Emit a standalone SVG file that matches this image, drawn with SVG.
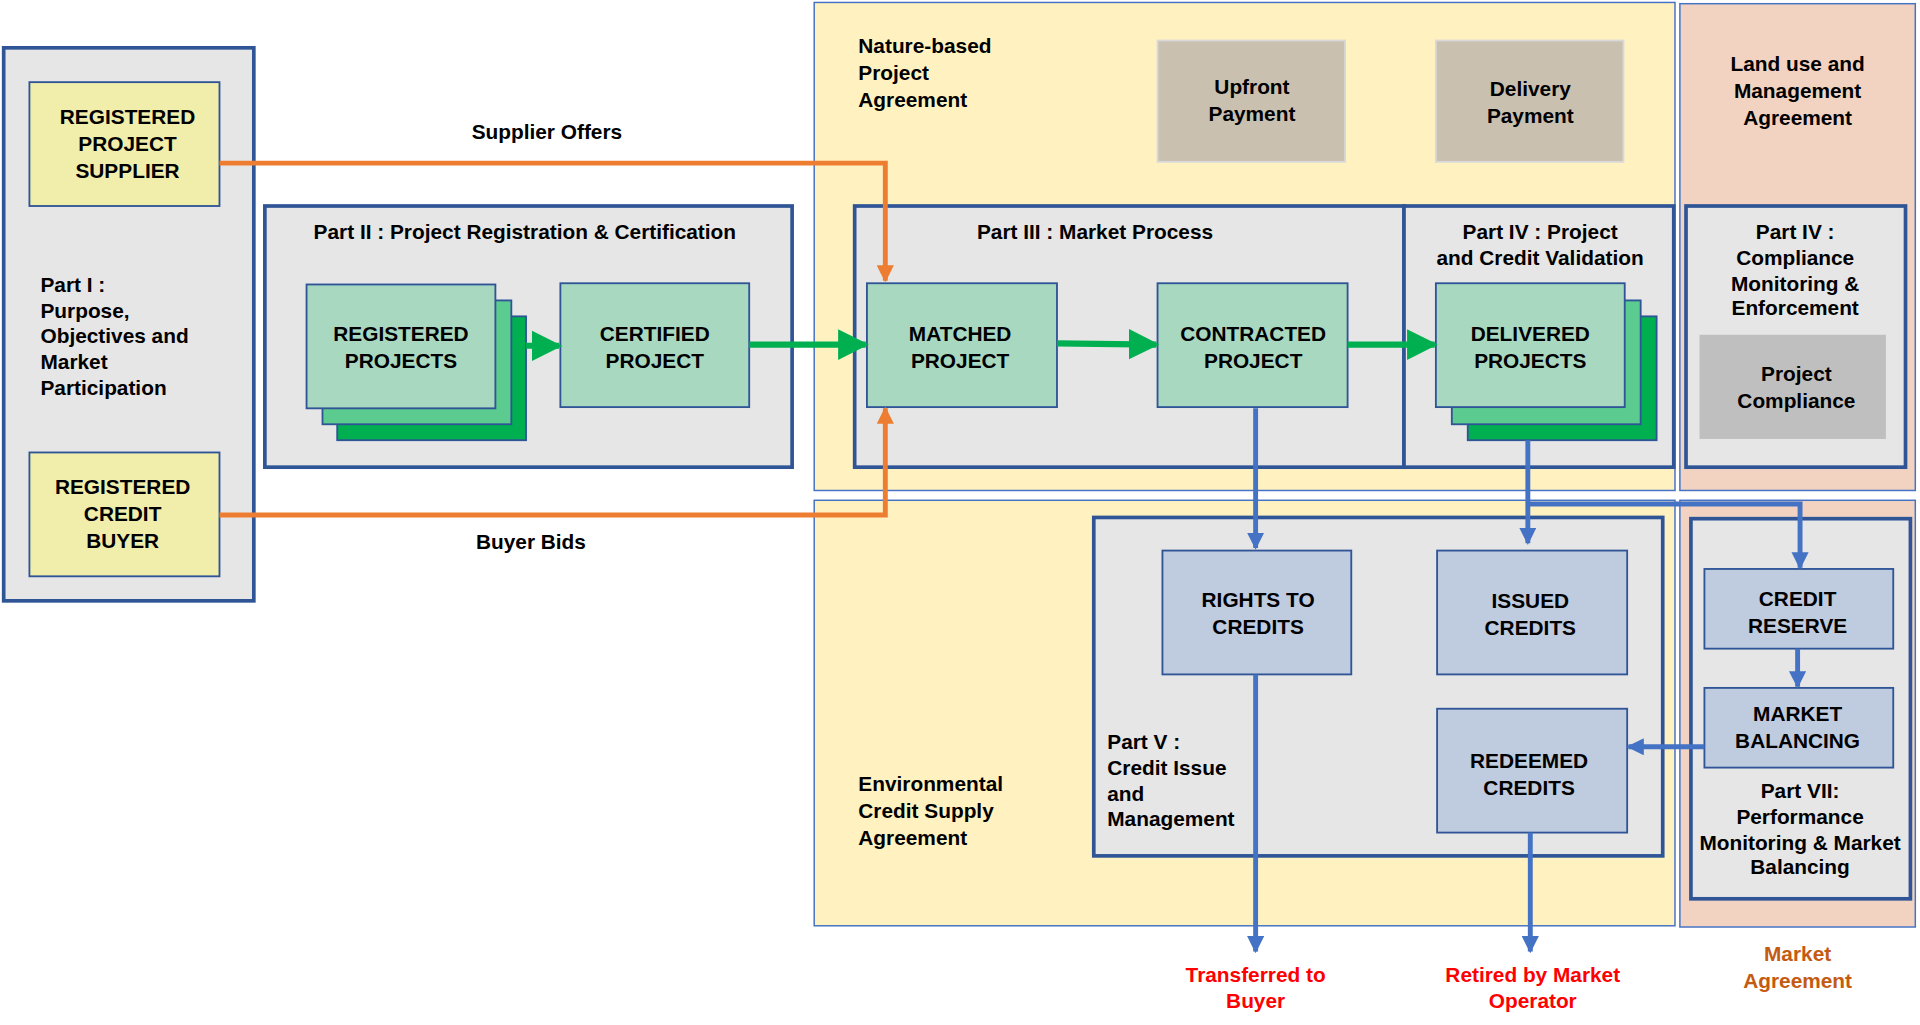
<svg xmlns="http://www.w3.org/2000/svg" width="1920" height="1025" viewBox="0 0 1920 1025">
<style>
text{font-family:"Liberation Sans",Arial,sans-serif;font-weight:bold;font-size:17px;fill:#000}
.c{text-anchor:middle}
.grp{fill:#e6e6e6;stroke:#2f5597;stroke-width:3}
.yel{fill:#f0eeaa;stroke:#2f5597;stroke-width:1.5}
.grn{fill:#a9d8c0;stroke:#2f5597;stroke-width:1.5}
.blu{fill:#bfcbdf;stroke:#2f5597;stroke-width:1.5}
.pay{fill:#c9c0b0;stroke:#d9d9d9;stroke-width:1.5}
.band{fill:#fff2c0;stroke:#4472c4;stroke-width:1.2}
.pink{fill:#f2d3c2;stroke:#4472c4;stroke-width:1.2}
.or{stroke:#ed7d31;stroke-width:4;fill:none}
.bl{stroke:#4472c4;stroke-width:4;fill:none}
.gr{stroke:#00b050;stroke-width:5;fill:none}
.red{fill:#ff0000}
.brn{fill:#c55a11}
</style>
<defs>
<marker id="ao" viewBox="0 0 10 10" refX="9" refY="5" markerWidth="3.5" markerHeight="3.5" orient="auto"><path d="M0,0L10,5L0,10z" fill="#ed7d31"/></marker>
<marker id="ab" viewBox="0 0 10 10" refX="9" refY="5" markerWidth="3.5" markerHeight="3.5" orient="auto"><path d="M0,0L10,5L0,10z" fill="#4472c4"/></marker>
<marker id="ag" viewBox="0 0 10 10" refX="9" refY="5" markerWidth="5" markerHeight="5" orient="auto"><path d="M0,0L10,5L0,10z" fill="#00b050"/></marker>
</defs>
<rect width="1920" height="1025" fill="#fff"/>
<g transform="scale(1.2262)">
<g id="bands">
<rect class="band" x="664" y="2" width="702" height="398"/>
<rect class="band" x="664" y="408" width="702" height="347"/>
<rect class="pink" x="1370" y="3" width="192" height="397"/>
<rect class="pink" x="1370" y="408" width="192" height="348"/>
<text x="700" y="43">Nature-based</text><text x="700" y="65">Project</text><text x="700" y="87">Agreement</text>
<text x="700" y="645">Environmental</text><text x="700" y="667">Credit Supply</text><text x="700" y="689">Agreement</text>
<text class="c" x="1466" y="58">Land use and</text><text class="c" x="1466" y="80">Management</text><text class="c" x="1466" y="102">Agreement</text>
<text class="c brn" x="1466" y="784">Market</text><text class="c brn" x="1466" y="806">Agreement</text>
</g>
<g id="part1">
<rect class="grp" x="3" y="39" width="204" height="451"/>
<text x="33" y="238">Part I :</text><text x="33" y="259">Purpose,</text><text x="33" y="280">Objectives and</text><text x="33" y="301">Market</text><text x="33" y="322">Participation</text>
</g>
<g id="supplier"><rect class="yel" x="24" y="67" width="155" height="101"/>
<text class="c" x="104" y="101">REGISTERED</text><text class="c" x="104" y="123">PROJECT</text><text class="c" x="104" y="145">SUPPLIER</text></g>
<g id="buyer"><rect class="yel" x="24" y="369" width="155" height="101"/>
<text class="c" x="100" y="403">REGISTERED</text><text class="c" x="100" y="425">CREDIT</text><text class="c" x="100" y="447">BUYER</text></g>
<g id="part2"><rect class="grp" x="216" y="168" width="430" height="213"/>
<text class="c" x="428" y="195">Part II : Project Registration &amp; Certification</text></g>
<g id="registered">
<rect x="275" y="258" width="154" height="101" fill="#00b050" stroke="#2f5597" stroke-width="1.5"/>
<rect x="263" y="245" width="154" height="101" fill="#5ccb8f" stroke="#2f5597" stroke-width="1.5"/>
<rect class="grn" x="250" y="232" width="154" height="101" stroke-width="2.5"/>
<text class="c" x="327" y="278">REGISTERED</text><text class="c" x="327" y="300">PROJECTS</text></g>
<g id="certified"><rect class="grn" x="457" y="231" width="154" height="101"/>
<text class="c" x="534" y="278">CERTIFIED</text><text class="c" x="534" y="300">PROJECT</text></g>
<g id="part3"><rect class="grp" x="697" y="168" width="448" height="213"/>
<text class="c" x="893" y="195">Part III : Market Process</text></g>
<g id="part4"><rect class="grp" x="1145" y="168" width="220" height="213"/>
<text class="c" x="1256" y="195">Part IV : Project</text><text class="c" x="1256" y="216">and Credit Validation</text></g>
<g id="upfront"><rect class="pay" x="944" y="33" width="153" height="99"/>
<text class="c" x="1021" y="77">Upfront</text><text class="c" x="1021" y="99">Payment</text></g>
<g id="delivery"><rect class="pay" x="1171" y="33" width="153" height="99"/>
<text class="c" x="1248" y="78">Delivery</text><text class="c" x="1248" y="100">Payment</text></g>
<g id="matched"><rect class="grn" x="707" y="231" width="155" height="101"/>
<text class="c" x="783" y="278">MATCHED</text><text class="c" x="783" y="300">PROJECT</text></g>
<g id="contracted"><rect class="grn" x="944" y="231" width="155" height="101"/>
<text class="c" x="1022" y="278">CONTRACTED</text><text class="c" x="1022" y="300">PROJECT</text></g>
<g id="delivered">
<rect x="1197" y="258" width="154" height="101" fill="#00b050" stroke="#2f5597" stroke-width="1.5"/>
<rect x="1184" y="245" width="154" height="101" fill="#5ccb8f" stroke="#2f5597" stroke-width="1.5"/>
<rect class="grn" x="1171" y="231" width="154" height="101" stroke-width="2.5"/>
<text class="c" x="1248" y="278">DELIVERED</text><text class="c" x="1248" y="300">PROJECTS</text></g>
<g id="compliance"><rect class="grp" x="1375" y="168" width="179" height="213"/>
<text class="c" x="1464" y="195">Part IV :</text><text class="c" x="1464" y="216">Compliance</text><text class="c" x="1464" y="237">Monitoring &amp;</text><text class="c" x="1464" y="257">Enforcement</text>
<rect x="1386" y="273" width="152" height="85" fill="#bfbfbf"/>
<text class="c" x="1465" y="311">Project</text><text class="c" x="1465" y="333">Compliance</text></g>
<g id="part5"><rect class="grp" x="892" y="422" width="464" height="276"/>
<text x="903" y="611">Part V :</text><text x="903" y="632">Credit Issue</text><text x="903" y="653">and</text><text x="903" y="674">Management</text></g>
<g id="rights"><rect class="blu" x="948" y="449" width="154" height="101"/>
<text class="c" x="1026" y="495">RIGHTS TO</text><text class="c" x="1026" y="517">CREDITS</text></g>
<g id="issued"><rect class="blu" x="1172" y="449" width="155" height="101"/>
<text class="c" x="1248" y="496">ISSUED</text><text class="c" x="1248" y="518">CREDITS</text></g>
<g id="redeemed"><rect class="blu" x="1172" y="578" width="155" height="101"/>
<text class="c" x="1247" y="626">REDEEMED</text><text class="c" x="1247" y="648">CREDITS</text></g>
<g id="part7"><rect class="grp" x="1379" y="423" width="179" height="310"/>
<text class="c" x="1468" y="651">Part VII:</text><text class="c" x="1468" y="672">Performance</text><text class="c" x="1468" y="693">Monitoring &amp; Market</text><text class="c" x="1468" y="713">Balancing</text></g>
<g id="reserve"><rect class="blu" x="1390" y="464" width="154" height="65"/>
<text class="c" x="1466" y="494">CREDIT</text><text class="c" x="1466" y="516">RESERVE</text></g>
<g id="balancing"><rect class="blu" x="1390" y="561" width="154" height="65"/>
<text class="c" x="1466" y="588">MARKET</text><text class="c" x="1466" y="610">BALANCING</text></g>
<g id="connectors">
<path class="or" d="M179,133H722V229" marker-end="url(#ao)"/>
<path class="or" d="M179,420H722V333" marker-end="url(#ao)"/>
<path class="gr" d="M429,282H456" marker-end="url(#ag)"/>
<path class="gr" d="M611,281H706" marker-end="url(#ag)"/>
<path class="gr" d="M862,280L943,281" marker-end="url(#ag)"/>
<path class="gr" d="M1099,281H1170" marker-end="url(#ag)"/>
<path class="bl" d="M1024,333V447" marker-end="url(#ab)"/>
<path class="bl" d="M1246,359V443" marker-end="url(#ab)"/>
<path class="bl" d="M1246,411H1468V463" marker-end="url(#ab)"/>
<path class="bl" d="M1466,529V560" marker-end="url(#ab)"/>
<path class="bl" d="M1390,609H1328" marker-end="url(#ab)"/>
<path class="bl" d="M1024,550V776" marker-end="url(#ab)"/>
<path class="bl" d="M1248,679V776" marker-end="url(#ab)"/>
<text class="c" x="446" y="113">Supplier Offers</text>
<text class="c" x="433" y="448">Buyer Bids</text>
<text class="c red" x="1024" y="801">Transferred to</text><text class="c red" x="1024" y="822">Buyer</text>
<text class="c red" x="1250" y="801">Retired by Market</text><text class="c red" x="1250" y="822">Operator</text>
</g>
</g>
</svg>
